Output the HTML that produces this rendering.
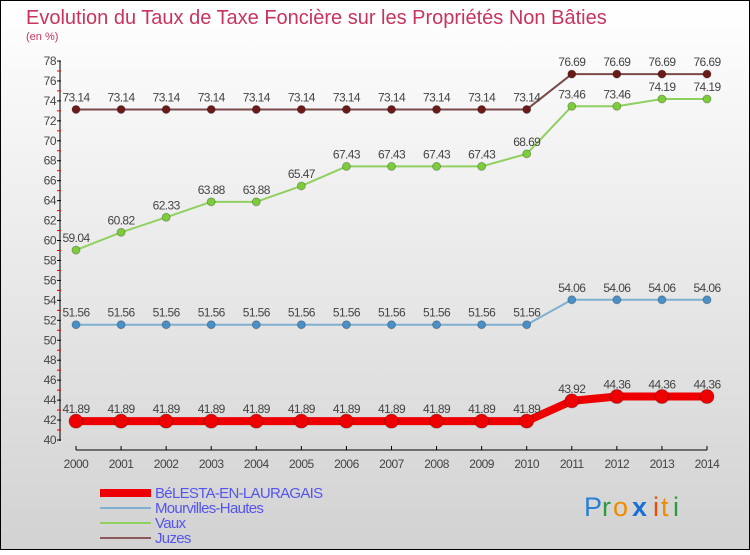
<!DOCTYPE html>
<html><head><meta charset="utf-8"><style>
body{margin:0;}
svg text{font-family:"Liberation Sans",sans-serif;}
</style></head><body>
<svg width="750" height="550" viewBox="0 0 750 550" xmlns="http://www.w3.org/2000/svg">
<defs><linearGradient id="bg" x1="0" y1="0" x2="0" y2="1"><stop offset="0" stop-color="#ffffff"/><stop offset="1" stop-color="#d2d2d2"/></linearGradient></defs>
<rect x="0.5" y="0.5" width="749" height="549" fill="url(#bg)" stroke="#000"/>
<text x="26" y="24" font-size="20" fill="#c8345e">Evolution du Taux de Taxe Foncière sur les Propriétés Non Bâties</text>
<text x="26" y="40" font-size="11" fill="#c8345e">(en %)</text>
<g id="axes"></g>
<g id="series"></g>
<g id="legend"></g>
<g font-size="27">
<text x="584" y="516" fill="#2a7fd4">P</text><text x="602" y="516" fill="#2e9a3e">r</text><text x="613" y="516" fill="#f08a00">o</text><text x="632" y="516" fill="#1a6ed8" font-weight="bold">x</text><text x="653" y="516" fill="#f04a00">i</text><text x="661" y="516" fill="#f08a00">t</text><text x="673" y="516" fill="#2e9a3e">i</text>
</g>
</svg>
<script>
const years=[2000,2001,2002,2003,2004,2005,2006,2007,2008,2009,2010,2011,2012,2013,2014];
const belesta=[41.89,41.89,41.89,41.89,41.89,41.89,41.89,41.89,41.89,41.89,41.89,43.92,44.36,44.36,44.36];
const mourvilles=[51.56,51.56,51.56,51.56,51.56,51.56,51.56,51.56,51.56,51.56,51.56,54.06,54.06,54.06,54.06];
const vaux=[59.04,60.82,62.33,63.88,63.88,65.47,67.43,67.43,67.43,67.43,68.69,73.46,73.46,74.19,74.19];
const juzes=[73.14,73.14,73.14,73.14,73.14,73.14,73.14,73.14,73.14,73.14,73.14,76.69,76.69,76.69,76.69];
const yTicks=[40,42,44,46,48,50,52,54,56,58,60,62,64,66,68,70,72,74,76,78];
const seriesNames=["BéLESTA-EN-LAURAGAIS","Mourvilles-Hautes","Vaux","Juzes"];
const NS="http://www.w3.org/2000/svg";
const X=i=>76+i*(707-76)/14;
const Y=v=>440-(v-40)*(440-61)/38;
function mk(tag,at,parent){const e=document.createElementNS(NS,tag);for(const k in at)e.setAttribute(k,at[k]);parent.appendChild(e);return e;}
const axes=document.getElementById('axes');
let e=mk('line',{x1:60,y1:61,x2:60,y2:441,stroke:'#000'},axes);


e=mk('line',{x1:76,y1:450,x2:707,y2:450,stroke:'#000'},axes);


yTicks.forEach((t,i)=>{
 const y=Y(t);
 mk('line',{x1:57,y1:y,x2:61,y2:y,stroke:'#000'},axes);
 if(i<yTicks.length-1)mk('line',{x1:57,y1:Y(t+1),x2:61,y2:Y(t+1),stroke:'#e00'},axes);
 const tx=mk('text',{x:56,y:y+4,'font-size':12,fill:'#444','text-anchor':'end','letter-spacing':'-0.5'},axes);
 tx.textContent=t;
 
 
});
years.forEach((yr,i)=>{
 mk('line',{x1:X(i),y1:446,x2:X(i),y2:450,stroke:'#000'},axes);
 const tx=mk('text',{x:X(i),y:468,'font-size':12,fill:'#444','text-anchor':'middle','letter-spacing':'-0.5'},axes);
 tx.textContent=yr;
 
 
});
const sg=document.getElementById('series');
const defs=[[juzes,'#6b1a1a','#7a4a4a',2,4,'juzes'],[vaux,'#7ccc3c','#90d060',2,4,'vaux'],[mourvilles,'#4a90c8','#80b0d0',2,4,'mourvilles-hautes'],[belesta,'#ee0000','#ee0000',8,7,'belesta']];
defs.forEach(([data,pc,lc,w,r,name])=>{
 const g=mk('g',{},sg);
 
 
 const pl=mk('polyline',{points:data.map((v,i)=>X(i)+','+Y(v)).join(' '),fill:'none',stroke:lc,'stroke-width':w,'stroke-linejoin':'round'},g);
 
 
 data.forEach((v,i)=>{
  const c=mk('circle',{cx:X(i),cy:Y(v),r:r,fill:pc,stroke:'rgba(0,0,0,0.25)','stroke-width':1},g);
  
  
  const t=mk('text',{x:X(i),y:Y(v)-8,'font-size':12,fill:'#444','text-anchor':'middle','letter-spacing':'-0.6'},g);
  t.textContent=v.toFixed(2).replace(/0$/,'').replace(/\.$/,'');
  
  
 });
});
const lg=document.getElementById('legend');
const lcols=['#ee0000','#80b0d0','#90d060','#8a5a5a'];
const lw=[8,2,2,2];
const ly=[493,508,523,538];
seriesNames.forEach((n,i)=>{
 const g=mk('g',{},lg);
 
 
 mk('line',{x1:100,y1:ly[i],x2:151,y2:ly[i],stroke:lcols[i],'stroke-width':lw[i]},g);
 const t=mk('text',{x:155,y:ly[i]+5,'font-size':15,fill:'#5555ee','letter-spacing':'-0.7'},g);
 t.textContent=n;
});
</script>
</body></html>
